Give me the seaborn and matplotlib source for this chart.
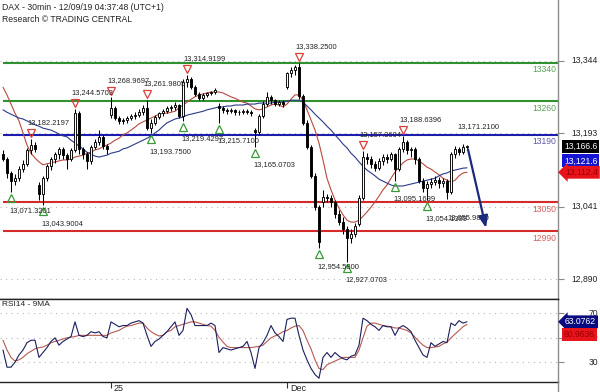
import numpy as np
import matplotlib
matplotlib.use("Agg")
import matplotlib.pyplot as plt
import matplotlib.transforms as mtransforms
from matplotlib.lines import Line2D
import seaborn as sns

# ---------------- 30-minute DAX bars ----------------
opens = [13150, 13140, 13110, 13095, 13100, 13120, 13130, 13158, 13170,
         13085, 13068, 13100, 13125, 13140, 13150, 13160, 13148, 13140, 13158, 13235, 13160, 13150, 13135, 13165, 13175, 13185, 13168,
         13232, 13245, 13225, 13218, 13220, 13225, 13230, 13232, 13238, 13245, 13205, 13215, 13228, 13235, 13240, 13245, 13248, 13252, 13230, 13300, 13305, 13290, 13275, 13266, 13272, 13276, 13279,
         13250, 13245, 13242, 13240, 13241, 13238, 13237, 13240, 13238,
         13200, 13195, 13230, 13255, 13268, 13262, 13255, 13258,
         13290, 13318, 13325, 13330, 13270, 13215, 13165, 13105, 13040,
         13050, 13062, 13058, 13050, 13025, 13010, 12995, 12975, 12985,
         13005, 13060, 13145, 13140, 13130, 13122, 13135, 13145, 13140, 13150, 13120, 13160, 13175, 13158, 13160, 13140, 13095, 13080, 13088, 13092, 13096, 13090, 13094, 13072, 13150, 13160, 13155, 13165]
highs = [13158, 13145, 13115, 13108, 13125, 13138, 13162, 13182.22, 13175,
         13092, 13105, 13130, 13145, 13155, 13165, 13164, 13152, 13162, 13244.57, 13240, 13165, 13155, 13170, 13182, 13200, 13190, 13172,
         13268.97, 13250, 13230, 13226, 13230, 13234, 13238, 13244, 13252, 13261.98, 13222, 13232, 13238, 13244, 13249, 13253, 13258, 13255, 13305, 13314.92, 13310, 13294, 13280, 13276, 13280, 13282, 13287,
         13256, 13250, 13246, 13245, 13244, 13242, 13244, 13243, 13241,
         13205, 13234, 13260, 13280, 13272, 13265, 13262, 13262,
         13320, 13330, 13335, 13338.25, 13275, 13220, 13170, 13110, 13045,
         13075, 13068, 13065, 13055, 13035, 13020, 13000, 12995, 13008,
         13065, 13157.36, 13152, 13146, 13136, 13142, 13150, 13150, 13155, 13152, 13165, 13188.64, 13180, 13165, 13164, 13145, 13100, 13095, 13100, 13105, 13102, 13100, 13098, 13155, 13166, 13165, 13171.21, 13170]
lows = [13135, 13100, 13071.32, 13085, 13095, 13112, 13125, 13150, 13155,
        13055, 13043.90, 13095, 13118, 13132, 13140, 13140, 13120, 13135, 13155, 13150, 13140, 13120, 13130, 13160, 13170, 13160, 13150,
        13225, 13220, 13212, 13212, 13215, 13220, 13224, 13228, 13232, 13200, 13193.75, 13210, 13222, 13230, 13235, 13240, 13242, 13225, 13219.43, 13290, 13285, 13270, 13262, 13262, 13268, 13272, 13275,
        13215.71, 13236, 13234, 13235, 13232, 13232, 13234, 13233, 13230,
        13165.07, 13190, 13226, 13250, 13255, 13250, 13250, 13248,
        13285, 13310, 13315, 13265, 13210, 13160, 13100, 13035, 12954.58,
        13040, 13050, 13040, 13018, 13002, 12985, 12927.07, 12965, 12978,
        13000, 13055, 13130, 13122, 13115, 13118, 13128, 13132, 13135, 13095.17, 13115, 13155, 13150, 13145, 13130, 13090, 13072, 13054.14, 13080, 13085, 13080, 13082, 13055.98, 13068, 13142, 13148, 13150, 13158]
closes = [13140, 13110, 13095, 13100, 13120, 13130, 13158, 13170, 13160,
          13068, 13100, 13125, 13140, 13150, 13160, 13148, 13140, 13158, 13235, 13160, 13150, 13135, 13165, 13175, 13185, 13168, 13160,
          13245, 13225, 13218, 13220, 13225, 13230, 13232, 13238, 13245, 13205, 13215, 13228, 13235, 13240, 13245, 13248, 13252, 13230, 13300, 13305, 13290, 13275, 13266, 13272, 13276, 13279, 13283,
          13245, 13242, 13240, 13241, 13238, 13237, 13240, 13238, 13236,
          13195, 13230, 13255, 13268, 13262, 13255, 13258, 13255,
          13318, 13325, 13330, 13270, 13215, 13165, 13105, 13040, 12968,
          13062, 13058, 13050, 13025, 13010, 12995, 12975, 12985, 13000,
          13060, 13145, 13140, 13130, 13122, 13135, 13145, 13140, 13150, 13120, 13160, 13175, 13158, 13160, 13140, 13095, 13080, 13088, 13092, 13096, 13090, 13094, 13072, 13150, 13160, 13155, 13165, 13166.6]

# moving averages on price
ma_fast = [13289, 13273, 13254, 13235, 13219, 13194, 13169, 13152, 13142,
           13134, 13128, 13130, 13132, 13134, 13136, 13138, 13138, 13140, 13144, 13146, 13148, 13152, 13154, 13159, 13161, 13165, 13169,
           13173, 13179, 13183, 13190, 13194, 13200, 13206, 13213, 13217, 13221, 13225, 13229, 13233, 13235, 13235, 13237, 13239, 13246, 13252, 13258, 13264, 13269, 13273, 13275, 13277, 13279, 13279,
           13279, 13277, 13273, 13269, 13266, 13262, 13258, 13256, 13250,
           13244, 13242, 13244, 13248, 13252, 13254, 13252, 13248,
           13254, 13264, 13273, 13273, 13262, 13242, 13221, 13200, 13173,
           13138, 13100, 13076, 13055, 13038, 13024, 13013, 13009, 13009,
           13013, 13021, 13030, 13040, 13051, 13063, 13076, 13086, 13100, 13113, 13123, 13132, 13138, 13140, 13140, 13136, 13130, 13123, 13119, 13113, 13107, 13100, 13096, 13092, 13096, 13105, 13111, 13112.4]
ma_slow = [13242, 13237, 13233, 13229, 13225, 13223, 13219, 13215, 13211,
           13208, 13204, 13202, 13200, 13196, 13192, 13188, 13186, 13179, 13173, 13167, 13161, 13154, 13150, 13146, 13144, 13146, 13148,
           13152, 13154, 13156, 13161, 13163, 13167, 13171, 13175, 13179, 13183, 13188, 13194, 13200, 13208, 13215, 13219, 13223, 13225, 13227, 13231, 13233, 13235, 13237, 13239, 13242, 13244, 13246,
           13248, 13248, 13250, 13250, 13252, 13252, 13252, 13254, 13254,
           13254, 13256, 13256, 13256, 13256, 13258, 13258, 13258,
           13260, 13262, 13262, 13262, 13258, 13250, 13242, 13233, 13225,
           13217, 13208, 13200, 13190, 13181, 13171, 13163, 13152, 13144,
           13134, 13125, 13117, 13111, 13105, 13098, 13094, 13090, 13086, 13084, 13084, 13084, 13086, 13088, 13090, 13092, 13094, 13096, 13098, 13100, 13105, 13109, 13111, 13115, 13117, 13119, 13121, 13121.6]

# RSI(14) and its 9-period average
rsi = [40, 26, 26, 30, 36, 40, 46, 48, 48,
       34, 38, 42, 47, 50, 44, 47, 49, 51, 63, 52, 51, 52, 55, 54, 55, 51, 50,
       63, 61, 59, 60, 60, 62, 63, 64, 62, 52, 43, 47, 49, 52, 55, 59, 63, 52, 56, 74, 69, 60, 60, 60, 60, 62, 60,
       38, 42, 41, 40, 41, 42, 43, 47, 38,
       25, 42, 46, 52, 60, 54, 51, 47,
       65, 66, 66, 52, 40, 32, 25, 20, 17,
       34, 38, 34, 38, 35, 33, 32, 35, 36,
       44, 66, 64, 61, 59, 56, 60, 59, 59, 52, 58, 60, 58, 55, 48, 42, 36, 34, 46, 43, 45, 47, 46, 62, 60, 64, 62, 63.0762]
rsi_ma = [48, 40, 34, 31, 32, 34, 37, 39, 41,
          42, 42.5, 44, 46, 47, 48, 49, 50, 50.5, 51, 52, 52, 52, 52, 52, 52, 52, 52,
          54, 55, 56, 58, 59.5, 60, 61, 62, 62, 58, 55, 53, 51.5, 52, 55, 56, 59, 60, 61, 62, 63, 63, 62, 61, 60, 59.5, 56,
          50.5, 46.5, 43, 42, 42, 42, 42, 42, 42,
          42.5, 43, 44, 47, 50, 51.5, 53, 55,
          56, 58, 59.5, 60, 56, 48, 41, 32, 25,
          24, 28, 29.5, 31, 32.5, 34, 34, 34, 34,
          40, 50, 59.5, 62, 62, 61, 60, 59.5, 59, 58, 58, 57, 56, 54, 50.5, 47, 44, 42, 42, 42.5, 43, 45, 46.5, 50, 53, 56, 59, 60.9636]

# swing highs / lows (bar index, price)
peaks = [(7, 13182.2197), (18, 13244.5703), (27, 13268.9697), (36, 13261.9805),
         (46, 13314.9199), (74, 13338.2500), (90, 13157.3604), (100, 13188.6396)]
troughs = [(2, 13071.3201), (10, 13043.9004), (37, 13193.7500), (45, 13219.4297),
           (54, 13215.7100), (63, 13165.0703), (79, 12954.5800), (86, 12927.0703),
           (98, 13095.1699), (106, 13054.1399)]
last_high = (115, 13171.2100)
last_low = (111, 13055.9800)

levels = [13340, 13260, 13190, 13050, 12990]
level_colors = ["#2f922f", "#2f922f", "#1c1cae", "#d42a2a", "#d42a2a"]
level_text_colors = ["#5aa25a", "#5aa25a", "#5a5aa8", "#d86060", "#d86060"]

price_ticks = [13344, 13193, 13041, 12890]
rsi_ticks = [70, 50, 30]
date_ticks = [27, 71]
date_labels = ["25", "Dec"]

forecast_x = [116.25, 120.75]
forecast_y = [13160, 12997]

# ---------------- figure ----------------
sns.set_style("white")
plt.rcParams["font.family"] = ["Liberation Sans", "DejaVu Sans"]

W, H = 600, 392
PLOT_R = 558
fig = plt.figure(figsize=(W / 100, H / 100), dpi=100)
ax = fig.add_axes([0, 1 - 299 / H, PLOT_R / W, 299 / H])
ax2 = fig.add_axes([0, 1 - 381.7 / H, PLOT_R / W, 82.7 / H])

XMIN, XMAX = -0.75, 138.75
for a in (ax, ax2):
    a.set_xlim(XMIN, XMAX)
    a.set_facecolor("white")
ax.set_ylim(12849.4, 13470.0)
ax2.set_ylim(14.16, 81.67)

n = len(closes)
idx = np.arange(n)
o = np.asarray(opens, float)
h = np.asarray(highs, float)
l = np.asarray(lows, float)
c = np.asarray(closes, float)

# level lines
for lv, lc, tc in zip(levels, level_colors, level_text_colors):
    ax.hlines(lv, 0, XMAX, color=lc, lw=1.5, zorder=2)
    ax.annotate(str(lv), xy=(138.3, lv), xytext=(0, -7), textcoords="offset pixels",
                ha="right", va="center", fontsize=6.2, color=tc, zorder=3)

# moving averages
sns.lineplot(x=idx, y=ma_fast, ax=ax, color="#b8493f", lw=0.8, zorder=3)
sns.lineplot(x=idx, y=ma_slow, ax=ax, color="#2b3a8c", lw=0.8, zorder=3)

# candles
ax.vlines(idx, l, h, color="black", lw=0.75, zorder=4)
body_lo = np.minimum(o, c)
body_hi = np.maximum(o, c)
fills = ["white" if up else "black" for up in (c >= o)]
ax.bar(idx, body_hi - body_lo, bottom=body_lo, width=0.62, color=fills,
       edgecolor="black", linewidth=0.65, zorder=5)

# swing markers and labels
up6 = ax.transData + mtransforms.ScaledTranslation(0, 6 / 100, fig.dpi_scale_trans)
dn6 = ax.transData + mtransforms.ScaledTranslation(0, -6 / 100, fig.dpi_scale_trans)
lab_kw = dict(textcoords="offset pixels", ha="left", va="center", fontsize=5.4, color="#222222", zorder=7)
for i, v in peaks:
    ax.plot(i, v, marker="v", ms=5.5, mfc="none", mec="#d9403a", mew=0.9, transform=up6, zorder=6)
    ax.annotate(f"{v:,.4f}", xy=(i, v), xytext=(-4, 16.5), **lab_kw)
for i, v in troughs:
    ax.plot(i, v, marker="^", ms=5.5, mfc="none", mec="#3a9a3a", mew=0.9, transform=dn6, zorder=6)
    ax.annotate(f"{v:,.4f}", xy=(i, v), xytext=(-2, -18), **lab_kw)
ax.annotate(f"{last_high[1]:,.4f}", xy=last_high, xytext=(-6, 17), **lab_kw)
ax.annotate(f"{last_low[1]:,.4f}", xy=last_low, xytext=(0, -18), **lab_kw)

# projected move
ax.annotate("", xy=(forecast_x[1], forecast_y[1]), xytext=(forecast_x[0], forecast_y[0]),
            arrowprops=dict(arrowstyle="-|>,head_length=0.7,head_width=0.28", color="#1b2a7a",
                            lw=1.6, shrinkA=0, shrinkB=0), zorder=8)

# header texts
fig.text(2 / W, 1 - 7 / H, "DAX - 30min - 12/09/19 04:37:48 (UTC+1)", fontsize=6.2,
         ha="left", va="center", color="#222222")
fig.text(2 / W, 1 - 19 / H, "Research \u00a9 TRADING CENTRAL", fontsize=6.2,
         ha="left", va="center", color="#222222")

# price axis (right)
blend = mtransforms.blended_transform_factory(ax.transAxes, ax.transData)
xr = 598 / PLOT_R
for v in price_ticks:
    ax.text(xr, v, f"{v:,}", transform=blend, ha="right", va="center", fontsize=6.2, color="#222222")
ax.set_yticks(price_ticks)
ax.yaxis.tick_right()
ax.tick_params(axis="y", right=True, left=False, labelright=False, labelleft=False,
               length=4, width=0.8, color="#888888")
ax.set_xticks([])
ax.grid(axis="y", ls=(0, (1, 4)), color="#b8b8b8", lw=0.8)
ax.set_ylabel("")

xb = 564 / PLOT_R
box_kw = dict(xycoords=blend, textcoords="offset pixels", ha="left", va="center",
              fontsize=6.2, annotation_clip=False, zorder=10)
ax.annotate(f"{closes[-1]:,.1f}", xy=(xb, closes[-1]), xytext=(0, 0), color="white",
            bbox=dict(boxstyle="square,pad=0.22", fc="black", ec="none"), **box_kw)
ax.annotate(f"{ma_slow[-1]:,.1f}", xy=(xb, ma_slow[-1]), xytext=(0, 7), color="white",
            bbox=dict(boxstyle="square,pad=0.22", fc="#1414d2", ec="none"), **box_kw)
ax.annotate(f"{ma_fast[-1]:,.1f}", xy=(xb, ma_fast[-1]), xytext=(1, 0), color="#9a0000",
            bbox=dict(boxstyle="larrow,pad=0.22", fc="#e8141c", ec="none"), **box_kw)

for s in ("top", "left"):
    ax.spines[s].set_visible(False)
ax.spines["bottom"].set_color("#222222")
ax.spines["bottom"].set_linewidth(1.0)
ax.spines["right"].set_color("#8c8c8c")
ax.spines["right"].set_linewidth(1.0)

# ---------------- RSI panel ----------------
sns.lineplot(x=idx, y=rsi_ma, ax=ax2, color="#b65a52", lw=0.8, zorder=3)
sns.lineplot(x=idx, y=rsi, ax=ax2, color="#1a1f5e", lw=0.8, zorder=4)
ax2.set_ylabel("")
fig.text(2 / W, 1 - 305 / H, "RSI14 - 9MA", fontsize=6.0, ha="left", va="center", color="#222222")

blend2 = mtransforms.blended_transform_factory(ax2.transAxes, ax2.transData)
for v in rsi_ticks:
    ax2.text(xr, v, f"{v}", transform=blend2, ha="right", va="center", fontsize=6.2,
             color="#222222", zorder=2)
ax2.set_yticks(rsi_ticks)
ax2.yaxis.tick_right()
ax2.tick_params(axis="y", right=True, left=False, labelright=False, labelleft=False,
                length=4, width=0.8, color="#888888")
ax2.grid(axis="y", ls=(0, (1, 4)), color="#b8b8b8", lw=0.8)

box_kw2 = dict(box_kw, xycoords=blend2)
ax2.annotate(f"{rsi[-1]:.4f}", xy=(xb, rsi[-1]), xytext=(1, 0), color="white",
             bbox=dict(boxstyle="larrow,pad=0.22", fc="#0a0a80", ec="none"), **box_kw2)
ax2.annotate(f"{rsi_ma[-1]:.4f}", xy=(xb, rsi_ma[-1]), xytext=(0, -10), color="#9a0000",
             bbox=dict(boxstyle="square,pad=0.22", fc="#e8141c", ec="none"), **box_kw2)

ax2.set_xticks(date_ticks)
ax2.set_xticklabels(date_labels, ha="left")
ax2.tick_params(axis="x", bottom=True, length=4, width=0.8, color="#333333", pad=-2.5,
                labelsize=6.5, labelcolor="#222222")
shift = mtransforms.ScaledTranslation(3 / 100, 0, fig.dpi_scale_trans)
for lbl in ax2.get_xticklabels():
    lbl.set_transform(lbl.get_transform() + shift)

ax2.spines["left"].set_visible(False)
for s in ("top", "bottom"):
    ax2.spines[s].set_color("#222222")
    ax2.spines[s].set_linewidth(1.0)
ax2.spines["right"].set_color("#8c8c8c")
ax2.spines["right"].set_linewidth(1.0)

fig.add_artist(Line2D([PLOT_R / W, PLOT_R / W], [0, 1 - 381.7 / H], color="#8c8c8c", lw=1.0,
                      transform=fig.transFigure))

fig.savefig("out.png", dpi=100)
